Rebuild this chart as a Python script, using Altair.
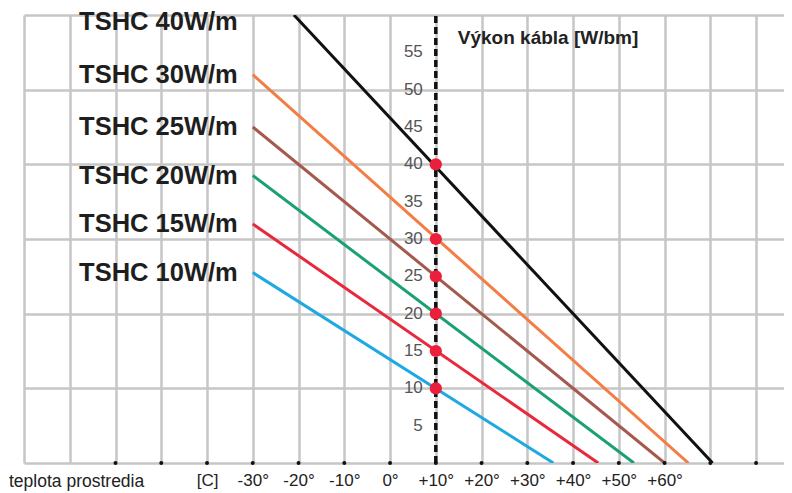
import altair as alt
import pandas as pd

# ---- data ----
series = ["TSHC 10W/m", "TSHC 15W/m", "TSHC 20W/m", "TSHC 25W/m", "TSHC 30W/m", "TSHC 40W/m"]
colors = ["#1ea9e3", "#e8283d", "#1ba170", "#a5584d", "#f47c45", "#111111"]
rated_power = [10, 15, 20, 25, 30, 40]          # W/m at +10 °C (red dots)
start_temp = [-30, -30, -30, -30, -30, -21]     # °C where each line starts
start_power = [25.5, 32, 38.5, 45, 52, 60]      # W/m at line start
end_temp = [35.7, 45.5, 53.3, 60, 65.2, 70.5]   # °C where the output reaches 0

x_grid_values = [-80, -70, -60, -50, -40, -30, -20, -10, 0, 10, 20, 30, 40, 50, 60, 70, 80]
x_tick_values = [-40, -30, -20, -10, 0, 10, 20, 30, 40, 50, 60]
x_tick_labels = ["[C]", "-30°", "-20°", "-10°", "0°", "+10°", "+20°", "+30°", "+40°", "+50°", "+60°"]
x_dot_values = [-60, -50, -40, -30, -20, -10, 0, 10, 20, 30, 40, 50, 60, 70, 80]
y_grid_values = [0, 5, 10, 15, 20, 25, 30, 35, 40, 45, 50, 55, 60]
y_label_values = [5, 10, 15, 20, 25, 30, 35, 40, 45, 50, 55]
ref_temp = 10
title_text = "Výkon kábla [W/bm]"
x_caption = "teplota prostredia"

# ---- tables ----
rows = []
for s, t0, p0, t1 in zip(series, start_temp, start_power, end_temp):
    rows.append({"series": s, "temp": t0, "power": p0})
    rows.append({"series": s, "temp": t1, "power": 0})
lines_df = pd.DataFrame(rows)

labels_df = pd.DataFrame({
    "series": series,
    "temp": [-30] * len(series),
    "power": [min(p, 59.0) for p in start_power],
})
dots_df = pd.DataFrame({"temp": [ref_temp] * len(rated_power), "power": rated_power})
ylab_df = pd.DataFrame({"temp": [ref_temp] * len(y_label_values), "power": y_label_values,
                        "txt": [str(v) for v in y_label_values]})
tdots_df = pd.DataFrame({"temp": x_dot_values, "power": [0] * len(x_dot_values)})
rule_df = pd.DataFrame({"temp": [ref_temp], "power": [0], "power2": [60]})

label_expr = " : ".join(f"datum.value == {v} ? '{l}'" for v, l in zip(x_tick_values, x_tick_labels)) + " : ''"

xs = alt.Scale(domain=[-80, 86.1], nice=False, zero=False)
ys = alt.Scale(domain=[0, 60], nice=False, zero=False)
xaxis = alt.Axis(values=x_grid_values, grid=True, gridColor="#c6c6c6", gridWidth=2.5,
                 ticks=False, domain=False, title=None, labelExpr=label_expr,
                 labelFont="Liberation Sans", labelFontSize=17, labelColor="#222222",
                 labelPadding=9, labelOverlap=False, labelFlush=False)
yaxis = alt.Axis(values=y_grid_values, grid=True, gridColor="#c6c6c6", gridWidth=2.5,
                 ticks=False, domain=False, labels=False, title=None)

X = alt.X("temp:Q", scale=xs, axis=xaxis)
Y = alt.Y("power:Q", scale=ys, axis=yaxis)

lines = alt.Chart(lines_df).mark_line(strokeWidth=3, clip=True).encode(
    x=X, y=Y,
    color=alt.Color("series:N", scale=alt.Scale(domain=series, range=colors), legend=None),
    detail="series:N",
)

rule = alt.Chart(rule_df).mark_rule(color="#111111", strokeWidth=3.5, strokeDash=[7, 4]).encode(
    x=X, y=Y, y2="power2:Q"
)

dots = alt.Chart(dots_df).mark_circle(size=150, color="#ea1f3b", opacity=1).encode(x=X, y=Y)

tdots = alt.Chart(tdots_df).mark_circle(size=16, color="#111111", opacity=1).encode(x=X, y=Y)

ylabels = alt.Chart(ylab_df).mark_text(align="right", baseline="middle", dx=-13, fontSize=17,
                                      font="Liberation Sans", color="#555555").encode(
    x=X, y=Y, text="txt:N")

slabels = alt.Chart(labels_df).mark_text(align="right", baseline="middle", dx=-15, fontSize=25.5,
                                        font="Liberation Sans", fontWeight="bold",
                                        color="#1e1e1e").encode(
    x=X, y=Y, text="series:N")

title = alt.Chart(pd.DataFrame({"t": [title_text]})).mark_text(
    align="left", baseline="middle", dx=22, dy=23, fontSize=19, fontWeight="bold",
    font="Liberation Sans", color="#222222").encode(
    x=alt.datum(ref_temp, scale=xs), y=alt.datum(60, scale=ys), text="t:N")

caption = alt.Chart(pd.DataFrame({"t": [x_caption]})).mark_text(
    align="left", baseline="middle", dx=-15, dy=19, fontSize=17.5,
    font="Liberation Sans", color="#222222").encode(
    x=alt.datum(-80, scale=xs), y=alt.datum(0, scale=ys), text="t:N")

chart = alt.layer(lines, rule, dots, tdots, ylabels, slabels, title, caption).properties(
    width=760, height=448,
    padding={"left": 16, "top": 7, "right": 0, "bottom": 30},
    autosize=alt.AutoSizeParams(type="none"),
    background="white",
).configure_view(strokeWidth=0)

chart.save("out.html", embed_options={"renderer": "svg", "actions": False})
